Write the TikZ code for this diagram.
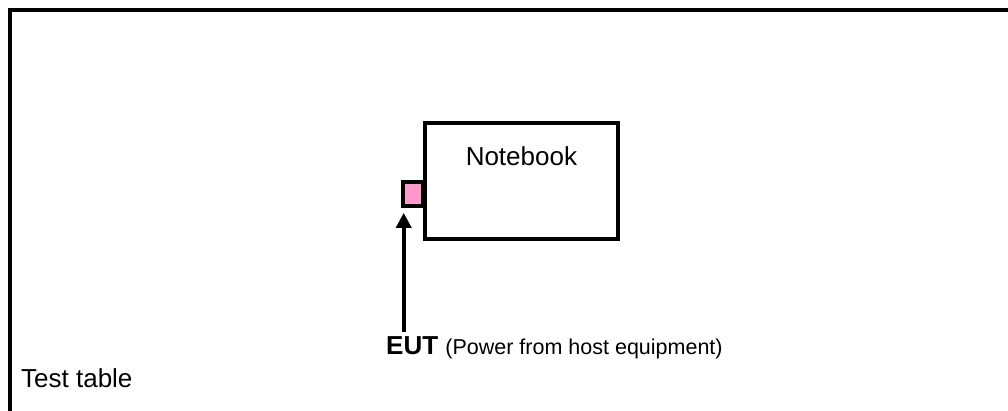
\documentclass[tikz,border=0pt]{standalone}
\usepackage{fontspec}
\setmainfont{Liberation Sans}
\usepackage{tikz}
\usepackage{xcolor}
\usetikzlibrary{arrows.meta,positioning,calc}
\definecolor{portpink}{HTML}{FF99CC}

\begin{document}
\begin{tikzpicture}[
  x=1pt, y=-1pt,
  box/.style={draw=black, line width=3.8pt, inner sep=0pt, outer sep=0pt},
  txt/.style={inner sep=0pt, font=\fontsize{26}{30}\selectfont},
]
% Page area: 1008 x 410, y measured downwards
\useasboundingbox (0,0) rectangle (1008,410);
% Test table (only top and left edges in view)
\draw[line width=4pt] (10,412) -- (10,10) -- (1010,10);
\node[txt, anchor=base west] (table) at (21,387) {Test table};

% Notebook and its port
\node[box, minimum width=193.3pt, minimum height=115.4pt] (nb) at (521.4,181) {};
\node[txt, anchor=base] (nbtext) at (521.4,165) {Notebook};
\node[box, fill=portpink, minimum width=20pt, minimum height=24.3pt, anchor=east] (port) at ($(nb.west)+(-2,13.2)$) {};

% EUT feed
\node[txt, anchor=base west] (eut) at (386,354)
  {\textbf{EUT} {\fontsize{21.5}{26}\selectfont (Power from host equipment)}};
\coordinate (feed) at (403.7,331.7);
\draw[line width=3.6pt, -{Triangle[length=15pt,width=15pt]}, shorten >=6.5pt] (feed) -- (feed |- port.south);
\end{tikzpicture}
\end{document}
